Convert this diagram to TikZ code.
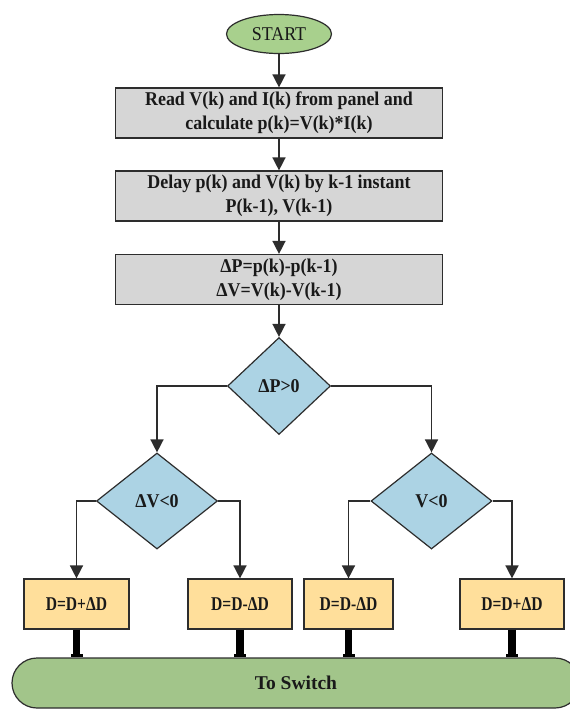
\documentclass[tikz,border=0pt]{standalone}
\usepackage{fontspec}
\setmainfont{Liberation Serif}[FakeStretch=0.92]
\newfontfamily\narrowserif{Liberation Serif}[FakeStretch=0.8]
\newfontfamily\wideserif{Liberation Serif}
\usetikzlibrary{shapes.geometric,arrows.meta}
\definecolor{startgreen}{RGB}{168,208,141}
\definecolor{barGreen}{RGB}{162,197,138}
\definecolor{procgray}{RGB}{214,214,214}
\definecolor{diamblue}{RGB}{172,211,228}
\definecolor{stepyellow}{RGB}{255,223,155}
\definecolor{edgegray}{RGB}{45,45,45}
\begin{document}
\begin{tikzpicture}[x=1pt,y=-1pt,
  base/.style={draw=edgegray, line width=1.2pt, text=black!90, align=center,
    inner sep=0pt, font=\bfseries\fontsize{19.5}{24}\selectfont},
  terminal/.style={base, ellipse, fill=startgreen, minimum width=105pt,
    minimum height=39pt, font=\fontsize{19.5}{24}\selectfont},
  procbox/.style={base, rectangle, fill=procgray, minimum width=327pt,
    minimum height=50pt},
  decision/.style={base, diamond, fill=diamblue},
  update/.style={base, rectangle, fill=stepyellow, minimum height=50pt,
    font=\narrowserif\bfseries\fontsize{19.5}{24}\selectfont},
  outbar/.style={base, rectangle, fill=barGreen, rounded corners=25pt,
    minimum height=50pt, font=\wideserif\bfseries\fontsize{19.5}{24}\selectfont},
  flow/.style={draw=edgegray, line width=1.5pt,
    -{Triangle[width=13pt,length=13pt]}},
  bus/.style={draw=black, line width=7.5pt,
    -{Rectangle[width=12pt,length=3pt]}}]
\clip (0,0) rectangle (570,710);
\fill[white] (0,0) rectangle (570,710);

% main chain
\node[terminal] (start) at (279,34) {START};
\node[procbox] (read)  at (279,113)   {Read V(k) and I(k) from panel and\\calculate p(k)=V(k)*I(k)};
\node[procbox] (delay) at (279,196)   {Delay p(k) and V(k) by k-1 instant\\P(k-1), V(k-1)};
\node[procbox] (diff)  at (279,279.5) {ΔP=p(k)-p(k-1)\\ΔV=V(k)-V(k-1)};

% decisions
\node[decision, minimum width=103pt, minimum height=97pt] (dp) at (279,386) {ΔP>0};
\node[decision, minimum width=121pt, minimum height=96pt] (dv) at (157,501) {ΔV<0};
\node[decision, minimum width=121pt, minimum height=96pt] (vv) at (431.5,501) {V<0};

% duty-cycle updates
\node[update, minimum width=105pt] (inc1) at (76.5,604) {D=D+ΔD};
\node[update, minimum width=104pt] (dec1) at (240,604)  {D=D-ΔD};
\node[update, minimum width=89pt]  (dec2) at (348.5,604) {D=D-ΔD};
\node[update, minimum width=104pt] (inc2) at (512,604)  {D=D+ΔD};

% output
\node[outbar, minimum width=568pt] (switch) at (296,683) {To Switch};

% connectors
\draw[flow] (start) -- (read);
\draw[flow] (read) -- (delay);
\draw[flow] (delay) -- (diff);
\draw[flow] (diff) -- (dp);
\draw[flow] (dp.west) -| (dv.north);
\draw[flow] (dp.east) -| (vv.north);
\draw[flow] (dv.west) -| (inc1.north);
\draw[flow] (dv.east) -| (dec1.north);
\draw[flow] (vv.west) -| (dec2.north);
\draw[flow] (vv.east) -| (inc2.north);

\foreach \b in {inc1,dec1,dec2,inc2}
  \draw[bus] (\b.south) -- (\b.south |- switch.north);
\end{tikzpicture}
\end{document}
